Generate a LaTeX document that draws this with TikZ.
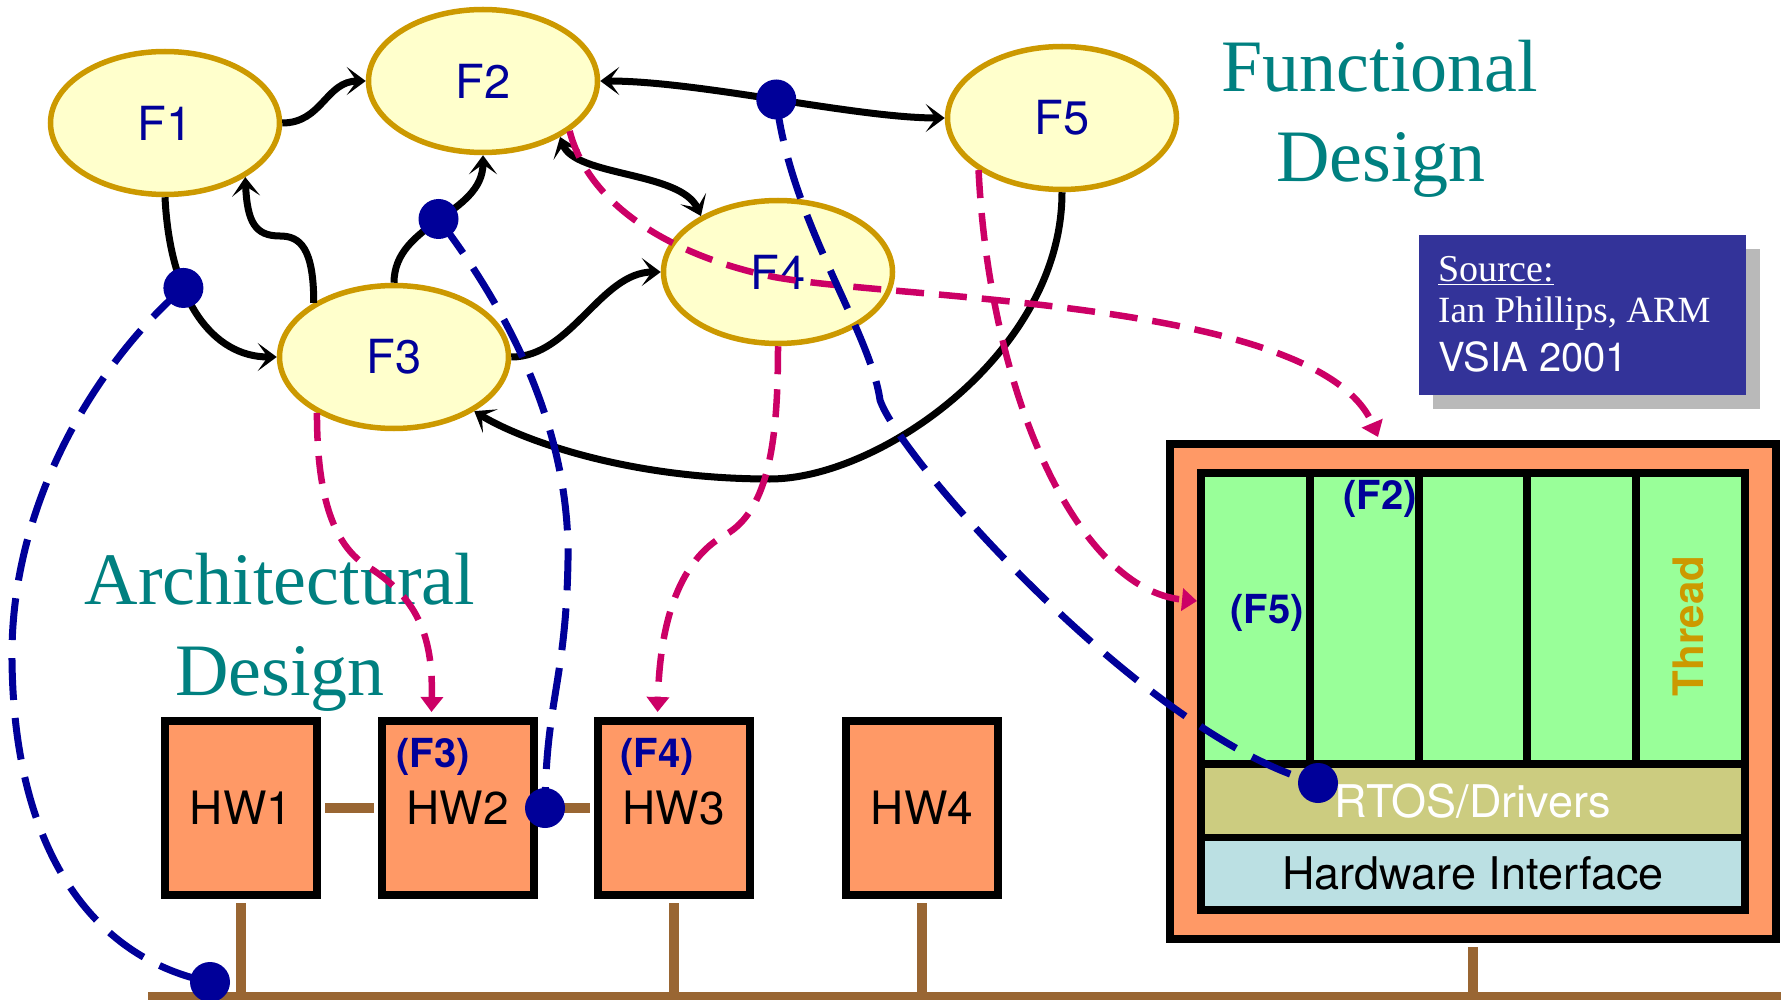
\documentclass[tikz,border=0pt]{standalone}
\usepackage{fontspec}
\setmainfont{Liberation Serif}
\setsansfont{TeX Gyre Heros}
\usetikzlibrary{shapes.geometric,arrows.meta}

\definecolor{fyellow}{HTML}{FFFFCC}
\definecolor{fgold}{HTML}{CC9900}
\definecolor{fblue}{HTML}{000099}
\definecolor{fteal}{HTML}{008080}
\definecolor{fmagenta}{HTML}{CC0066}
\definecolor{horange}{HTML}{FF9966}
\definecolor{hbrown}{HTML}{996633}
\definecolor{tgreen}{HTML}{99FF99}
\definecolor{rkhaki}{HTML}{CCCC80}
\definecolor{hwblue}{HTML}{BBE0E3}
\definecolor{srcblue}{HTML}{333399}

\newcommand{\fsz}[1]{\fontsize{#1}{#1}\selectfont}

\tikzset{
  func/.style={ellipse, draw=fgold, fill=fyellow, line width=5.5pt, minimum width=229pt, minimum height=143pt, inner sep=0pt, text=fblue, font=\sffamily\fsz{47}},
  hwbox/.style={rectangle, draw=black, fill=horange, line width=8pt, minimum width=152pt, minimum height=174pt, inner sep=0pt, font=\sffamily\fsz{46}},
  band/.style={rectangle, inner sep=0pt, minimum width=536pt, font=\sffamily\fsz{45}},
  flow/.style={line width=7pt, -{Stealth[length=19pt,width=28pt,inset=10pt]}},
  flows/.style={line width=7pt, {Stealth[length=19pt,width=28pt,inset=10pt]}-{Stealth[length=19pt,width=28pt,inset=10pt]}},
  dot/.style={circle, fill=fblue, inner sep=0pt, minimum size=40pt},
  trace/.style={fblue, line width=7pt, dash pattern=on 42pt off 18pt},
  maps/.style={fmagenta, line width=6.5pt, dash pattern=on 28pt off 15pt, -{Triangle[length=15pt,width=22pt]}},
  link/.style={hbrown, line width=10pt},
  title/.style={text=fteal, font=\fsz{74}, anchor=base, inner sep=0pt},
  tag/.style={text=fblue, font=\sffamily\bfseries\fsz{40}, inner sep=0pt},
  srctext/.style={anchor=base west, text=white, inner sep=0pt}
}

\begin{document}
\begin{tikzpicture}[x=1pt, y=-1pt]
    \useasboundingbox (0,0) rectangle (1781,1000);

    % headings
    \node[title] (fun1) at (1380,92) {Functional};
    \node[title] (fun2) at (1381,182) {Design};
    \node[title] (arc1) at (280,604) {Architectural};
    \node[title] (arc2) at (280,695) {Design};

    % source box
    \fill[gray!55] (1433,249) rectangle (1760,409);
    \node[fill=srcblue, minimum width=327pt, minimum height=160pt, inner sep=0pt] (src) at (1582.5,315) {};
    \node[srctext, font=\fsz{38}] (srcA) at (1438,282) {\underline{Source:}};
    \node[srctext, font=\fsz{37}] (srcB) at (1438,323) {Ian Phillips, ARM};
    \node[srctext, font=\sffamily\fsz{40}] (srcC) at (1438,371) {VSIA 2001};

    % hardware boxes and bus
    \coordinate (busL) at (148,997);
    \coordinate (busR) at (1781,997);
    \node[hwbox] (HW1) at (241,808) {HW1};
    \node[hwbox] (HW2) at (457.5,808) {HW2};
    \node[hwbox] (HW3) at (673.5,808) {HW3};
    \node[hwbox] (HW4) at (922,808) {HW4};
    \node[tag] (t3) at (433,757) {(F3)};
    \node[tag] (t4) at (657,757) {(F4)};

    % software stack
    \node[rectangle, draw=black, fill=horange, line width=8pt, minimum width=606pt, minimum height=495pt] (os) at (1473,691.5) {};
    \fill (1197,469) rectangle (1749,914);
    \foreach \i in {0,...,4}
        \fill[tgreen] (1205+108.8*\i,477) rectangle ++(100.8,283);
    \node[band, fill=rkhaki, text=white, minimum height=66pt] (rtos) at (1473,801) {RTOS/Drivers};
    \node[band, fill=hwblue, minimum height=65pt] (hwi) at (1473,873.5) {Hardware Interface};
    \node[rotate=90, text=fgold, font=\sffamily\bfseries\fsz{42}, inner sep=0pt] (thread) at (1688,626) {Thread};
    \node[tag] (t2) at (1380,499) {(F2)};
    \node[tag] (t5) at (1267,613) {(F5)};

    \draw[link, shorten <=4pt, shorten >=4pt] (HW1.east) -- (HW2.west);
    \draw[link, shorten <=4pt, shorten >=4pt] (HW2.east) -- (HW3.west);
    \draw[link] (busL) -- (busR);
    \draw[link, shorten <=4pt] (HW1.south) -- (HW1.south |- busL);
    \draw[link, shorten <=4pt] (HW3.south) -- (HW3.south |- busL);
    \draw[link, shorten <=4pt] (HW4.south) -- (HW4.south |- busL);
    \draw[link, shorten <=4pt] (os.south) -- (os.south |- busL);

    % functions
    \node[func] (F1) at (165,123) {F1};
    \node[func] (F2) at (483,81) {F2};
    \node[func] (F3) at (394,357) {F3};
    \node[func] (F4) at (778,272) {F4};
    \node[func] (F5) at (1062,118) {F5};

    \draw[flow] (F1.east) .. controls +(40,0) and +(-40,0) .. (F2.west);
    \draw[flow] (F1.south) .. controls +(5,103) and +(-64,0) .. (F3.west) node[dot, pos=0.35] (d1) {};
    \draw[flow] (F3.146) .. controls +(0,-55) and +(20,0) .. (280,236) .. controls +(-25,0) and +(2,45) .. (F1.-34);
    \draw[flow] (F3.north) .. controls +(0,-60) and +(0,60) .. (F2.south) node[dot, pos=0.5] (d2) {};
    \draw[flow] (F3.east) .. controls +(60,0) and +(-60,0) .. (F4.west);
    \draw[flows] (F2.-36) .. controls +(15,40) and +(-20,-45) .. (F4.144);
    \draw[flows] (F2.east) .. controls +(100,0) and +(-90,0) .. (F5.west) node[dot, pos=0.5] (d3) {};
    \draw[flow] (F5.south) .. controls +(0,160) and +(110,0) .. (770,479) .. controls +(-150,0) and +(40,25) .. (F3.-34);

    % mappings
    \coordinate (osT) at (1378,437);
    \coordinate (osL) at (1197,601);
    \draw[maps] (F2.-30) .. controls (590,210) and (680,258) .. (774,277) .. controls (900,300) and (1320,300) .. (osT);
    \draw[maps, shorten >=5pt] (F3.-144) .. controls +(0,75) and (330,545) .. (370,568) .. controls (420,600) and (433,640) .. (HW2.106);
    \draw[maps, shorten >=5pt] (F4.south) .. controls +(0,90) and (770,510) .. (725,535) .. controls (680,560) and (660,620) .. (HW3.100);
    \draw[maps] (F5.-148) .. controls (990,400) and (1080,590) .. (osL);

    \node[dot] (d4) at (545,808) {};
    \node[dot] (d5) at (210,982) {};
    \node[dot] (d6) at (1318,783) {};
    \draw[trace] (d1.center) .. controls (100,360) and (10,500) .. (12,660) .. controls (14,860) and (100,960) .. (d5.center);
    \draw[trace] (d2.center) .. controls (500,300) and (570,420) .. (568,560) .. controls (566,680) and (546,700) .. (d4.center);
    \draw[trace] (d3.center) .. controls (790,220) and (870,330) .. (880,400) .. controls (900,460) and (1150,740) .. (d6.center);
\end{tikzpicture}
\end{document}
